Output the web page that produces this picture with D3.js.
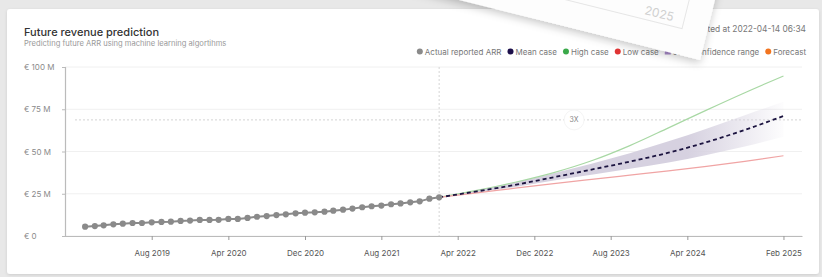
<!DOCTYPE html>
<html>
<head>
<meta charset="utf-8">
<script src="https://cdn.jsdelivr.net/npm/d3@7"></script>
<style>
  body { margin: 0; background: #e8e8e8; font-family: Inter, "Noto Sans", sans-serif; }
  svg { display: block; }
</style>
</head>
<body>
<div id="chart"></div>
<script>
// actual ARR, monthly Jan 2019 .. Feb 2022 (millions EUR)
const actualArr = [5.5, 5.9, 6.3, 6.9, 7.3, 7.7, 7.7, 8.1, 8.3, 8.5, 8.9, 9.1, 9.5, 9.5, 9.6, 10.1,
    10.1, 10.7, 11.4, 11.8, 12.4, 12.8, 13.4, 13.8, 14.0, 14.4, 15.0, 15.6, 16.2, 17.0, 17.6,
    18.0, 18.8, 19.3, 19.9, 20.5, 22.1, 22.9];

const forecastDates = ["2022-02", "2022-06", "2022-10", "2023-02", "2023-06", "2023-10",
    "2024-02", "2024-06", "2024-10", "2025-02"];
const meanCase = [22.9, 26.4, 30.3, 34.8, 39.3, 44.0, 49.3, 55.5, 62.8, 71.0];
const highCase = [22.9, 27.0, 31.8, 37.5, 44.5, 53.5, 64.0, 74.5, 84.8, 94.7];
const lowCase = [22.9, 25.5, 28.3, 31.0, 33.5, 36.0, 38.5, 41.2, 44.2, 47.5];
const confUpper = [22.9, 27.2, 31.8, 37.2, 42.8, 49.0, 56.0, 63.5, 71.5, 79.5];
const confLower = [22.9, 25.8, 29.0, 32.8, 36.2, 39.8, 43.5, 48.0, 53.0, 58.8];

const xTickLabels = ["2019-08", "2020-04", "2020-12", "2021-08", "2022-04", "2022-12",
    "2023-08", "2024-04", "2025-02"];
const yTicks = [0, 25, 50, 75, 100];

const legendNames = ["Actual reported ARR", "Mean case", "High case", "Low case", "95% confidence range", "Forecast"];
const legendColors = ["#8a8a8a", "#1c0f4a", "#3aa94a", "#e03434", "#a98bc9", "#f2741f"];

const width = 822, height = 277;
const margin = {left: 65, right: 20, top: 67, bottom: 41};
const parseMonth = d3.timeParse("%Y-%m");

let svg = d3.select("#chart").append("svg")
    .attr("width", width)
    .attr("height", height);

let defs = svg.append("defs");
defs.append("filter").attr("id", "cardShadow").attr("x", "-5%").attr("y", "-5%").attr("width", "110%").attr("height", "110%")
    .append("feDropShadow").attr("dx", 0).attr("dy", 1).attr("stdDeviation", 1.5)
    .attr("flood-color", "#000").attr("flood-opacity", 0.12);
defs.append("filter").attr("id", "paperShadow").attr("x", "-20%").attr("y", "-20%").attr("width", "140%").attr("height", "140%")
    .append("feDropShadow").attr("dx", 0).attr("dy", 3).attr("stdDeviation", 4)
    .attr("flood-color", "#000").attr("flood-opacity", 0.22);

// card
svg.append("rect")
    .attr("x", 7).attr("y", 9).attr("width", 812).attr("height", 265)
    .attr("rx", 3)
    .attr("fill", "#fff")
    .attr("filter", "url(#cardShadow)");

let x = d3.scaleTime()
    .domain([new Date(2018, 9, 29), new Date(2025, 3, 1)])
    .range([margin.left, width - margin.right]);

let y = d3.scaleLinear()
    .domain([0, 100])
    .range([height - margin.bottom, margin.top]);

// titles
svg.append("text")
    .attr("x", 24).attr("y", 36)
    .attr("fill", "#333")
    .style("font-size", "11px")
    .style("font-weight", 500)
    .text("Future revenue prediction");

svg.append("text")
    .attr("x", 24).attr("y", 45.5)
    .attr("fill", "#9a9a9a")
    .style("font-size", "7.6px")
    .text("Predicting future ARR using machine learning algortihms");

svg.append("text")
    .attr("x", 806).attr("y", 32)
    .attr("fill", "#777")
    .style("font-size", "8.4px")
    .style("text-anchor", "end")
    .text("Predicted at 2022-04-14 06:34");

// legend, laid out from the right
let legend = svg.append("g").style("font-size", "8px");
let lx = 806;
for (let i = legendNames.length - 1; i >= 0; i--) {
    let t = legend.append("text")
        .attr("x", lx).attr("y", 54.5)
        .attr("fill", "#777")
        .style("text-anchor", "end")
        .text(legendNames[i]);
    let w = t.node().getComputedTextLength();
    let cx = lx - w - 5;
    if (legendNames[i].includes("confidence")) {
        legend.append("rect").attr("x", cx - 3).attr("y", 48.5).attr("width", 6).attr("height", 6)
            .attr("fill", legendColors[i]);
    } else {
        legend.append("circle").attr("cx", cx).attr("cy", 51.5).attr("r", 3)
            .attr("fill", legendColors[i]);
    }
    lx = cx - 9;
}

// grid
svg.append("g")
    .selectAll("line")
    .data(yTicks)
    .join("line")
    .attr("x1", x.range()[0]).attr("x2", x.range()[1])
    .attr("y1", d => y(d)).attr("y2", d => y(d))
    .attr("stroke", "#f0f0f0");

// y axis
let yAxis = svg.append("g")
    .attr("transform", `translate(${margin.left}, 0)`)
    .call(d3.axisLeft(y).tickValues(yTicks).tickSize(3).tickPadding(0).tickFormat(d => `€ ${d}${d ? " M" : ""}`));
yAxis.select(".domain").attr("stroke", "#bbb").attr("stroke-width", 1.2);
yAxis.selectAll(".tick line").attr("stroke", "#bbb");
yAxis.selectAll(".tick text")
    .attr("x", 24 - margin.left)
    .style("text-anchor", "start")
    .attr("fill", "#8a8a8a")
    .style("font-family", "Inter, sans-serif")
    .style("font-size", "8px");

// x axis
let xAxis = svg.append("g")
    .attr("transform", `translate(0, ${height - margin.bottom})`)
    .call(d3.axisBottom(x).tickValues(xTickLabels.map(parseMonth)).tickSize(4).tickSizeOuter(0)
        .tickPadding(10).tickFormat(d3.timeFormat("%b %Y")));
xAxis.select(".domain").attr("stroke", "#bbb").attr("stroke-width", 1.2);
xAxis.selectAll(".tick line").attr("stroke", "#999");
xAxis.selectAll(".tick text")
    .attr("fill", "#555")
    .style("font-family", "Inter, sans-serif")
    .style("font-size", "8px");

let actualDates = d3.timeMonth.range(new Date(2019, 0, 1), new Date(2022, 2, 1));
let actual = actualDates.map((d, i) => ({date: d, value: actualArr[i]}));
let lastActual = actual[actual.length - 1];

// "today" marker and 3x line
svg.append("line")
    .attr("x1", x(lastActual.date)).attr("x2", x(lastActual.date))
    .attr("y1", y(100)).attr("y2", y(0))
    .attr("stroke", "#d6d6d6")
    .attr("stroke-dasharray", "2,2");

let threeX = lastActual.value * 3;
svg.append("line")
    .attr("x1", x.range()[0] + 10).attr("x2", x.range()[1])
    .attr("y1", y(threeX)).attr("y2", y(threeX))
    .attr("stroke", "#d3d3d3")
    .attr("stroke-dasharray", "2,2");

// forecast
let fc = forecastDates.map((d, i) => ({
    date: parseMonth(d), mean: meanCase[i], high: highCase[i], low: lowCase[i],
    upper: confUpper[i], lower: confLower[i]
}));

let grad = defs.append("linearGradient").attr("id", "bandFade")
    .attr("gradientUnits", "userSpaceOnUse")
    .attr("x1", x(fc[0].date)).attr("x2", x(fc[fc.length - 1].date))
    .attr("y1", 0).attr("y2", 0);
grad.append("stop").attr("offset", "0%").attr("stop-color", "#d6d1e0").attr("stop-opacity", 1);
grad.append("stop").attr("offset", "72%").attr("stop-color", "#d6d1e0").attr("stop-opacity", 1);
grad.append("stop").attr("offset", "100%").attr("stop-color", "#d6d1e0").attr("stop-opacity", 0.05);

svg.append("path")
    .datum(fc)
    .attr("fill", "url(#bandFade)")
    .attr("d", d3.area().curve(d3.curveMonotoneX)
        .x(d => x(d.date)).y0(d => y(d.lower)).y1(d => y(d.upper)));

let line = key => d3.line().curve(d3.curveMonotoneX).x(d => x(d.date)).y(d => y(d[key]));

svg.append("path").datum(fc)
    .attr("fill", "none").attr("stroke", "#a8d8a4").attr("stroke-width", 1.2)
    .attr("d", line("high"));
svg.append("path").datum(fc)
    .attr("fill", "none").attr("stroke", "#f0a4a4").attr("stroke-width", 1.2)
    .attr("d", line("low"));
svg.append("path").datum(fc)
    .attr("fill", "none").attr("stroke", "#1c1440").attr("stroke-width", 1.8)
    .attr("stroke-dasharray", "4,3")
    .attr("d", line("mean"));

// 3x label
let lbl = svg.append("g").attr("transform", `translate(${x(new Date(2023, 0, 1)) + 30}, ${y(threeX)})`);
lbl.append("circle").attr("r", 10).attr("fill", "#fff").attr("stroke", "#f5f5f5");
lbl.append("text").attr("y", 2.5).attr("fill", "#888").style("font-size", "7px")
    .style("text-anchor", "middle").text("3X");

// actual
svg.append("path").datum(actual)
    .attr("fill", "none").attr("stroke", "#8a8a8a").attr("stroke-width", 2)
    .attr("d", d3.line().x(d => x(d.date)).y(d => y(d.value)));
svg.append("g").selectAll("circle")
    .data(actual)
    .join("circle")
    .attr("cx", d => x(d.date)).attr("cy", d => y(d.value))
    .attr("r", 3.1)
    .attr("fill", "#8a8a8a");

// paper sheet lying across the top of the card
let paper = svg.append("g").attr("transform", "translate(700, 60) rotate(14)");
paper.append("rect")
    .attr("x", -700).attr("y", -400).attr("width", 700).attr("height", 400)
    .attr("fill", "#fdfdfd")
    .attr("filter", "url(#paperShadow)");
paper.append("rect")
    .attr("x", -640).attr("y", -330).attr("width", 615).attr("height", 304)
    .attr("fill", "none").attr("stroke", "#e6e6e6");
paper.append("text")
    .attr("x", -36).attr("y", -31)
    .attr("fill", "#d0d0d0")
    .style("font-size", "12px")
    .style("text-anchor", "end")
    .text("2025");
</script>
</body>
</html>
